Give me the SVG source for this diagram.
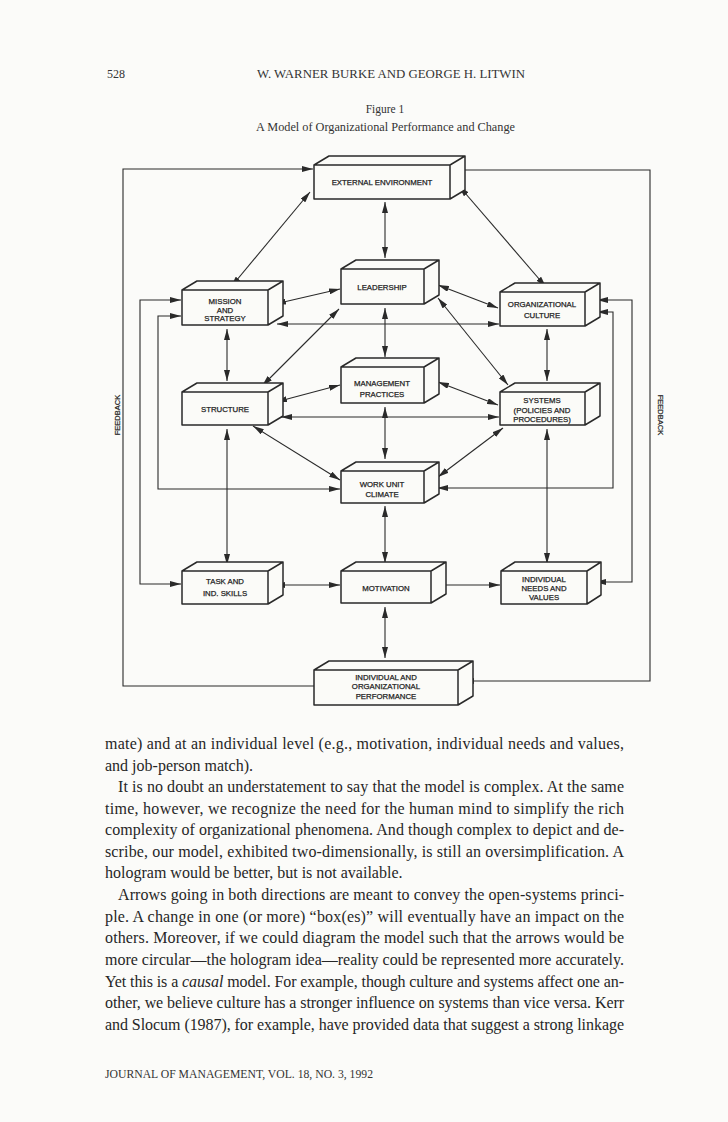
<svg xmlns="http://www.w3.org/2000/svg" width="728" height="1122" viewBox="0 0 728 1122">
<defs>
<style>
.box{fill:#fbfbf8;stroke:#2a2a2a;stroke-width:1.5;stroke-linejoin:round}
.c{fill:none;stroke:#2a2a2a;stroke-width:1.1}
.lbl{font-family:"Liberation Sans",Arial,sans-serif;font-size:7.8px;fill:#222;stroke:#222;stroke-width:0.25;text-anchor:middle}
.fb{font-family:"Liberation Sans",Arial,sans-serif;font-size:7.5px;fill:#222;stroke:#222;stroke-width:0.2;text-anchor:middle}
.body{font-family:"Liberation Serif","Times New Roman",serif;font-size:16px;fill:#262626}
.hd{font-family:"Liberation Serif","Times New Roman",serif;fill:#333}
</style>
<marker id="ah" viewBox="0 0 11 6" refX="11" refY="3" markerWidth="11" markerHeight="6" markerUnits="userSpaceOnUse" orient="auto-start-reverse">
<path d="M0,0 L11,3 L0,6 Z" fill="#2a2a2a"/>
</marker>
</defs>
<rect x="0" y="0" width="728" height="1122" fill="#fbfbf9"/>

<g id="header">
<text class="hd" x="107" y="78" font-size="12">528</text>
<text class="hd" x="257" y="78" font-size="12" textLength="268" lengthAdjust="spacingAndGlyphs">W. WARNER BURKE AND GEORGE H. LITWIN</text>
<text class="hd" x="385" y="113" font-size="11.5" text-anchor="middle">Figure 1</text>
<text class="hd" x="256" y="131" font-size="11.5" textLength="259" lengthAdjust="spacingAndGlyphs">A Model of Organizational Performance and Change</text>
</g>

<g id="connectors">
<path class="c" marker-end="url(#ah)" d="M314,686 H123 V169 H313"/>
<path class="c" marker-end="url(#ah)" d="M457,170 H650 V681 H463"/>
<path class="c" marker-start="url(#ah)" marker-end="url(#ah)" d="M181,300 H140 V584 H181"/>
<path class="c" marker-start="url(#ah)" marker-end="url(#ah)" d="M181,316 H158 V489 H340"/>
<path class="c" marker-start="url(#ah)" marker-end="url(#ah)" d="M597,300 H632 V582 H595"/>
<path class="c" marker-start="url(#ah)" marker-end="url(#ah)" d="M597,312 H613 V488 H437"/>
<path class="c" marker-start="url(#ah)" marker-end="url(#ah)" d="M310,192 L231,287"/>
<path class="c" marker-start="url(#ah)" marker-end="url(#ah)" d="M385,202 L385,258"/>
<path class="c" marker-start="url(#ah)" marker-end="url(#ah)" d="M459,186 L546,287"/>
<path class="c" marker-start="url(#ah)" marker-end="url(#ah)" d="M275,304 L340,289"/>
<path class="c" marker-start="url(#ah)" marker-end="url(#ah)" d="M438,285 L498,308"/>
<path class="c" marker-start="url(#ah)" marker-end="url(#ah)" d="M277,324 L499,324"/>
<path class="c" marker-start="url(#ah)" marker-end="url(#ah)" d="M227,329 L227,381"/>
<path class="c" marker-start="url(#ah)" marker-end="url(#ah)" d="M339,309 L262,386"/>
<path class="c" marker-start="url(#ah)" marker-end="url(#ah)" d="M385,308 L385,357"/>
<path class="c" marker-start="url(#ah)" marker-end="url(#ah)" d="M438,298 L508,385"/>
<path class="c" marker-start="url(#ah)" marker-end="url(#ah)" d="M547,329 L547,381"/>
<path class="c" marker-start="url(#ah)" marker-end="url(#ah)" d="M276,402 L340,385"/>
<path class="c" marker-start="url(#ah)" marker-end="url(#ah)" d="M438,382 L498,405"/>
<path class="c" marker-start="url(#ah)" marker-end="url(#ah)" d="M281,417 L499,417"/>
<path class="c" marker-start="url(#ah)" marker-end="url(#ah)" d="M385,407 L385,459"/>
<path class="c" marker-start="url(#ah)" marker-end="url(#ah)" d="M253,426 L340,480"/>
<path class="c" marker-start="url(#ah)" marker-end="url(#ah)" d="M503,428 L438,477"/>
<path class="c" marker-start="url(#ah)" marker-end="url(#ah)" d="M227,429 L227,565"/>
<path class="c" marker-start="url(#ah)" marker-end="url(#ah)" d="M385,506 L385,563"/>
<path class="c" marker-start="url(#ah)" marker-end="url(#ah)" d="M547,429 L547,564"/>
<path class="c" marker-start="url(#ah)" marker-end="url(#ah)" d="M274,585 L340,585"/>
<path class="c" marker-start="url(#ah)" marker-end="url(#ah)" d="M435,585 L500,585"/>
<path class="c" marker-start="url(#ah)" marker-end="url(#ah)" d="M385,607 L385,658"/>
</g>

<g id="ext">
<path class="box" d="M314,165H450V199H314Z M314,165L329,156H465L450,165Z M450,165L465,156V190L450,199Z"/>
<text class="lbl" x="382" y="185">EXTERNAL ENVIRONMENT</text>
</g>
<g id="mission">
<path class="box" d="M182,290H268V325H182Z M182,290L197,281H283L268,290Z M268,290L283,281V316L268,325Z"/>
<text class="lbl" x="225" y="304">MISSION</text>
<text class="lbl" x="225" y="312.5">AND</text>
<text class="lbl" x="225" y="321">STRATEGY</text>
</g>
<g id="leadership">
<path class="box" d="M341,269H424V304H341Z M341,269L356,260H439L424,269Z M424,269L439,260V295L424,304Z"/>
<text class="lbl" x="382" y="290">LEADERSHIP</text>
</g>
<g id="culture">
<path class="box" d="M500,292H585V326H500Z M500,292L515,283H600L585,292Z M585,292L600,283V317L585,326Z"/>
<text class="lbl" x="542" y="307">ORGANIZATIONAL</text>
<text class="lbl" x="542" y="318">CULTURE</text>
</g>
<g id="structure">
<path class="box" d="M182,392H268V425H182Z M182,392L197,383H283L268,392Z M268,392L283,383V416L268,425Z"/>
<text class="lbl" x="225" y="412">STRUCTURE</text>
</g>
<g id="management">
<path class="box" d="M341,367H424V403H341Z M341,367L356,358H439L424,367Z M424,367L439,358V394L424,403Z"/>
<text class="lbl" x="382" y="386">MANAGEMENT</text>
<text class="lbl" x="382" y="397">PRACTICES</text>
</g>
<g id="systems">
<path class="box" d="M500,392H585V425H500Z M500,392L515,383H600L585,392Z M585,392L600,383V416L585,425Z"/>
<text class="lbl" x="542" y="403">SYSTEMS</text>
<text class="lbl" x="542" y="413">(POLICIES AND</text>
<text class="lbl" x="542" y="422">PROCEDURES)</text>
</g>
<g id="climate">
<path class="box" d="M341,471H424V503H341Z M341,471L356,462H439L424,471Z M424,471L439,462V494L424,503Z"/>
<text class="lbl" x="382" y="487">WORK UNIT</text>
<text class="lbl" x="382" y="497">CLIMATE</text>
</g>
<g id="task">
<path class="box" d="M182,571H268V604H182Z M182,571L197,562H283L268,571Z M268,571L283,562V595L268,604Z"/>
<text class="lbl" x="225" y="584">TASK AND</text>
<text class="lbl" x="225" y="596">IND. SKILLS</text>
</g>
<g id="motivation">
<path class="box" d="M341,571H431V603H341Z M341,571L356,562H446L431,571Z M431,571L446,562V594L431,603Z"/>
<text class="lbl" x="386" y="591">MOTIVATION</text>
</g>
<g id="needs">
<path class="box" d="M501,571H587V604H501Z M501,571L515,562H601L587,571Z M587,571L601,562V595L587,604Z"/>
<text class="lbl" x="544" y="582">INDIVIDUAL</text>
<text class="lbl" x="544" y="591">NEEDS AND</text>
<text class="lbl" x="544" y="600">VALUES</text>
</g>
<g id="performance">
<path class="box" d="M314,670H458V705H314Z M314,670L329,661H473L458,670Z M458,670L473,661V696L458,705Z"/>
<text class="lbl" x="386" y="680">INDIVIDUAL AND</text>
<text class="lbl" x="386" y="689">ORGANIZATIONAL</text>
<text class="lbl" x="386" y="699">PERFORMANCE</text>
</g>

<g id="feedback-labels">
<text class="fb" transform="translate(119.5,415) rotate(-90)">FEEDBACK</text>
<text class="fb" transform="translate(658,415) rotate(90)">FEEDBACK</text>
</g>

<g id="body-text" class="body">
<text x="105" y="749" textLength="519" lengthAdjust="spacing">mate) and at an individual level (e.g., motivation, individual needs and values,</text>
<text x="105" y="771">and job-person match).</text>
<text x="118" y="792" textLength="506" lengthAdjust="spacing">It is no doubt an understatement to say that the model is complex. At the same</text>
<text x="105" y="814" textLength="519" lengthAdjust="spacing">time, however, we recognize the need for the human mind to simplify the rich</text>
<text x="105" y="835" textLength="519" lengthAdjust="spacing">complexity of organizational phenomena. And though complex to depict and de-</text>
<text x="105" y="857" textLength="519" lengthAdjust="spacing">scribe, our model, exhibited two-dimensionally, is still an oversimplification. A</text>
<text x="105" y="878">hologram would be better, but is not available.</text>
<text x="118" y="900" textLength="506" lengthAdjust="spacing">Arrows going in both directions are meant to convey the open-systems princi-</text>
<text x="105" y="922" textLength="519" lengthAdjust="spacing">ple. A change in one (or more) “box(es)” will eventually have an impact on the</text>
<text x="105" y="943" textLength="519" lengthAdjust="spacing">others. Moreover, if we could diagram the model such that the arrows would be</text>
<text x="105" y="965" textLength="519" lengthAdjust="spacing">more circular—the hologram idea—reality could be represented more accurately.</text>
<text x="105" y="987" textLength="519" lengthAdjust="spacing">Yet this is a <tspan font-style="italic">causal</tspan> model. For example, though culture and systems affect one an-</text>
<text x="105" y="1008" textLength="519" lengthAdjust="spacing">other, we believe culture has a stronger influence on systems than vice versa. Kerr</text>
<text x="105" y="1030" textLength="519" lengthAdjust="spacing">and Slocum (1987), for example, have provided data that suggest a strong linkage</text>
</g>

<g id="footer">
<text class="hd" x="105" y="1078" font-size="11.5" textLength="268" lengthAdjust="spacingAndGlyphs">JOURNAL OF MANAGEMENT, VOL. 18, NO. 3, 1992</text>
</g>
</svg>
